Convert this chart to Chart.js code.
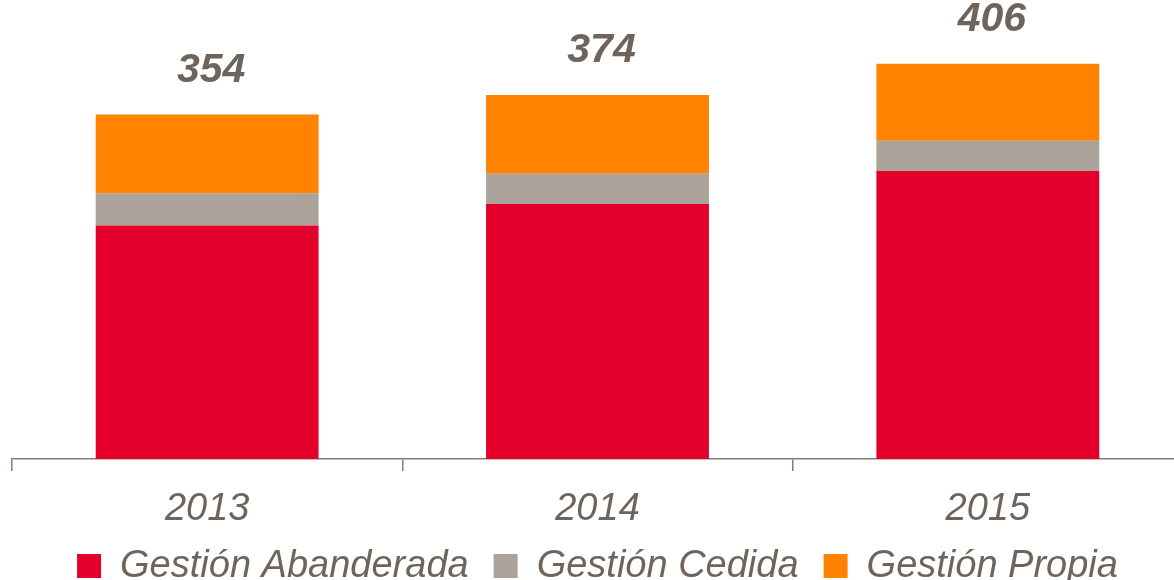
<!DOCTYPE html>
<html>
<head>
<meta charset="utf-8">
<script src="https://cdn.jsdelivr.net/npm/chart.js@4/dist/chart.umd.min.js"></script>
<style>
  html, body { margin: 0; padding: 0; background: #ffffff; overflow: hidden; }
  #wrap { width: 1184px; height: 580px; }
</style>
</head>
<body>
<div id="wrap"><canvas id="c" width="1184" height="580"></canvas></div>
<script>
const categories = ['2013', '2014', '2015'];
const seriesNames = ['Gestión Abanderada', 'Gestión Cedida', 'Gestión Propia'];
const abanderada = [240, 262, 296];
const cedida = [33, 31, 31];
const propia = [81, 81, 79];
const totals = [354, 374, 406];

const TEXT = '#6E645C';
const AXIS = '#867C74';
const FONT = '"Liberation Sans", Arial, sans-serif';

const totalsPlugin = {
  id: 'totals',
  afterDatasetsDraw(chart) {
    const ctx = chart.ctx;
    const xs = chart.scales.x, ys = chart.scales.y;
    ctx.save();
    ctx.fillStyle = TEXT;
    ctx.font = 'italic bold 41px ' + FONT;
    ctx.textAlign = 'center';
    ctx.textBaseline = 'middle';
    totals.forEach((t, i) => {
      ctx.fillText(String(t), xs.getPixelForValue(i) + 4, ys.getPixelForValue(t) - 44);
    });
    ctx.restore();
  }
};

new Chart(document.getElementById('c'), {
  type: 'bar',
  data: {
    labels: categories,
    datasets: [
      { label: seriesNames[0], data: abanderada, backgroundColor: '#E4002B', borderWidth: 0 },
      { label: seriesNames[1], data: cedida, backgroundColor: '#ABA399', borderWidth: 0 },
      { label: seriesNames[2], data: propia, backgroundColor: '#FF8200', borderWidth: 0 }
    ]
  },
  options: {
    responsive: false,
    animation: false,
    devicePixelRatio: 1,
    layout: { padding: { left: 12, right: 1, top: 21, bottom: -15 } },
    datasets: { bar: { categoryPercentage: 1, barPercentage: 0.571 } },
    scales: {
      x: {
        stacked: true,
        grid: { offset: true, drawOnChartArea: false, drawTicks: true, tickLength: 12, color: AXIS, lineWidth: 1.5 },
        border: { display: true, color: AXIS, width: 1.5 },
        ticks: { color: TEXT, font: { family: FONT, size: 38, style: 'italic' }, padding: 16 },
        afterFit(scale) { scale.height = 63; }
      },
      y: {
        stacked: true,
        display: false,
        min: 0,
        max: 450
      }
    },
    plugins: {
      legend: {
        position: 'bottom',
        labels: {
          boxWidth: 24,
          boxHeight: 24,
          padding: 25,
          color: TEXT,
          font: { family: FONT, size: 38, style: 'italic' }
        }
      },
      tooltip: { enabled: false },
      title: { display: false }
    }
  },
  plugins: [totalsPlugin]
});
</script>
</body>
</html>
